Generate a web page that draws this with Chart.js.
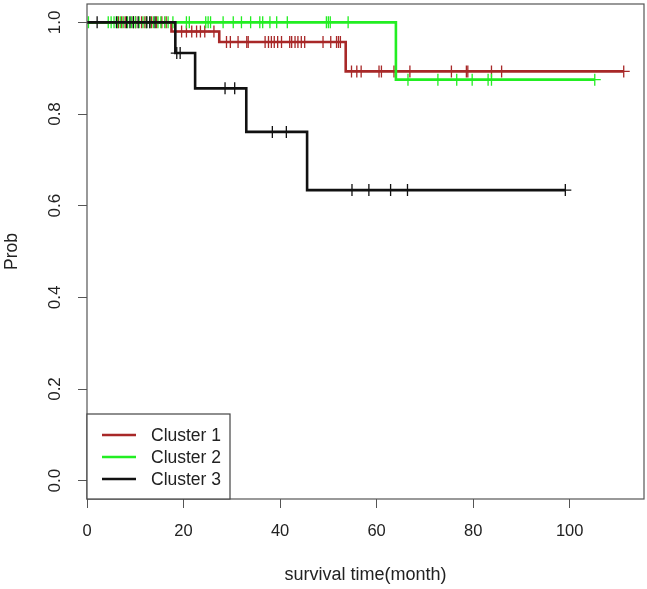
<!DOCTYPE html>
<html>
<head>
<meta charset="utf-8">
<script src="https://cdn.jsdelivr.net/npm/chart.js@4.4.1/dist/chart.umd.min.js"></script>
<style>
  html, body { margin: 0; padding: 0; background: #fff; }
</style>
</head>
<body>
<canvas id="km" width="647" height="589"></canvas>
<script>
  // Kaplan-Meier curves, values

  const clusterNames = ['Cluster 1', 'Cluster 2', 'Cluster 3'];
  const clusterColors = ['#A82828', '#22EE22', '#111111'];

  // event times (month) and survival after each event
  const c1EventTimes = [17.5, 27.4, 53.6];
  const c1Surv = [0.980, 0.957, 0.893];
  const c1Censor = [6.5, 7.2, 7.9, 9.6, 10.1, 11.3, 12.0, 13.4, 14.4, 15.5, 16.4,
    19.6, 20.6, 21.7, 22.7, 23.5, 24.4, 26.3,
    28.9, 29.7, 31.3, 33.1, 33.4, 36.9, 37.6, 38.2, 38.8, 39.5, 40.3, 42.0, 42.4,
    43.1, 43.7, 44.4, 45.1, 48.9, 50.5, 51.7, 52.1, 52.5,
    54.8, 55.9, 56.8, 60.5, 61.0, 63.6, 66.9, 75.5, 78.6, 78.9, 83.8, 85.9, 111.2];

  const c2EventTimes = [64.0];
  const c2Surv = [0.875];
  const c2Censor = [0.3, 4.4, 5.0, 5.6, 6.3, 6.9, 7.5, 8.4, 9.2, 10.0, 10.8, 11.6,
    12.3, 13.1, 13.8, 14.7, 15.3, 16.1, 16.8, 17.8, 20.6, 21.2, 24.6, 25.1, 25.6,
    28.2, 30.3, 32.0, 33.9, 35.8, 36.4, 37.9, 39.3, 41.5, 49.6, 50.0, 50.4, 54.1,
    66.5, 72.7, 76.6, 79.8, 83.1, 83.8, 105.2];

  const c3EventTimes = [18.3, 22.4, 33.0, 45.6];
  const c3Surv = [0.933, 0.856, 0.761, 0.634];
  const c3Censor = [2.1, 6.1, 8.2, 8.9, 9.6, 10.6, 12.4, 13.0, 14.1,
    18.6, 19.3, 28.6, 30.6, 38.4, 41.3, 54.9, 58.4, 62.9, 66.4, 99.1];

  const xTicks = [0, 20, 40, 60, 80, 100];
  const yTicks = [0, 0.2, 0.4, 0.6, 0.8, 1.0];
  const yTickLabels = ['0.0', '0.2', '0.4', '0.6', '0.8', '1.0'];

  const FONT = '"Liberation Sans", Arial, Helvetica, sans-serif';

  function survAt(times, surv, t) {
    let s = 1;
    for (let i = 0; i < times.length; i++) {
      if (times[i] <= t) s = surv[i];
    }
    return s;
  }

  function stepPoints(times, surv, censor) {
    const pts = [{ x: 0, y: 1 }];
    times.forEach((t, i) => pts.push({ x: t, y: surv[i] }));
    const end = Math.max(...censor, ...times);
    pts.push({ x: end, y: surv[surv.length - 1] });
    return pts;
  }

  function censorPoints(times, surv, censor) {
    return censor.map((t) => ({ x: t, y: survAt(times, surv, t) }));
  }

  const groups = [
    [c1EventTimes, c1Surv, c1Censor],
    [c2EventTimes, c2Surv, c2Censor],
    [c3EventTimes, c3Surv, c3Censor],
  ];

  // dataset 0 is painted last, so cluster 3 goes first
  const datasets = [];
  [2, 1, 0].forEach((g) => {
    const [t, s, c] = groups[g];
    datasets.push({
      type: 'scatter',
      label: clusterNames[g] + ' censored',
      data: censorPoints(t, s, c),
      pointStyle: 'cross',
      radius: 6,
      borderWidth: 1.3,
      borderColor: clusterColors[g],
      showLine: false,
    });
    datasets.push({
      type: 'line',
      label: clusterNames[g],
      data: stepPoints(t, s, c),
      stepped: true,
      borderColor: clusterColors[g],
      borderWidth: 2.6,
      pointRadius: 0,
      fill: false,
    });
  });

  const framePlugin = {
    id: 'frame',
    afterDraw(chart) {
      const ctx = chart.ctx;
      const ca = chart.chartArea;
      const yScale = chart.scales.y;

      ctx.save();
      // plot box
      ctx.strokeStyle = '#555';
      ctx.lineWidth = 1.2;
      ctx.strokeRect(ca.left, ca.top, ca.right - ca.left, ca.bottom - ca.top);

      // y tick labels, rotated like R
      ctx.fillStyle = '#222';
      ctx.font = '17px ' + FONT;
      ctx.textAlign = 'center';
      ctx.textBaseline = 'middle';
      yScale.ticks.forEach((tick, i) => {
        ctx.save();
        ctx.translate(ca.left - 32, yScale.getPixelForValue(tick.value));
        ctx.rotate(-Math.PI / 2);
        ctx.fillText(yTickLabels[i], 0, 0);
        ctx.restore();
      });

      // legend in the bottom left corner
      const lw = 143, lh = 85;
      const lx = ca.left, ly = ca.bottom - lh;
      ctx.fillStyle = '#fff';
      ctx.fillRect(lx, ly, lw, lh);
      ctx.strokeStyle = '#444';
      ctx.lineWidth = 1.2;
      ctx.strokeRect(lx, ly, lw, lh);
      ctx.textAlign = 'left';
      ctx.font = '17.5px ' + FONT;
      clusterNames.forEach((name, i) => {
        const ry = ly + 21 + i * 22;
        ctx.strokeStyle = clusterColors[i];
        ctx.lineWidth = 2.4;
        ctx.beginPath();
        ctx.moveTo(lx + 15, ry);
        ctx.lineTo(lx + 49, ry);
        ctx.stroke();
        ctx.fillStyle = '#222';
        ctx.fillText(name, lx + 64, ry + 1);
      });
      ctx.restore();
    },
  };

  new Chart(document.getElementById('km').getContext('2d'), {
    data: { datasets: datasets },
    options: {
      responsive: false,
      animation: false,
      layout: { autoPadding: false, padding: { top: 4, right: 3, left: 0, bottom: 0 } },
      plugins: {
        legend: { display: false },
        tooltip: { enabled: false },
      },
      scales: {
        x: {
          type: 'linear',
          min: 0,
          max: 115.4,
          afterBuildTicks: (scale) => {
            scale.ticks = xTicks.map((v) => ({ value: v }));
          },
          afterFit: (scale) => {
            scale.height = 90;
          },
          grid: { drawOnChartArea: false, drawTicks: true, tickLength: 9, color: '#555' },
          border: { display: false },
          ticks: {
            color: '#222',
            padding: 14,
            maxRotation: 0,
            font: { size: 16.5, family: FONT },
            callback: (v) => String(v),
          },
          title: {
            display: true,
            text: 'survival time(month)',
            color: '#222',
            font: { size: 18, family: FONT },
            padding: { top: 0, bottom: 3 },
          },
        },
        y: {
          type: 'linear',
          min: -0.04,
          max: 1.04,
          afterBuildTicks: (scale) => {
            scale.ticks = yTicks.map((v) => ({ value: v }));
          },
          afterFit: (scale) => {
            scale.width = 87;
          },
          grid: { drawOnChartArea: false, drawTicks: true, tickLength: 9, color: '#555' },
          border: { display: false },
          ticks: { display: false },
          title: {
            display: true,
            text: 'Prob',
            color: '#222',
            font: { size: 17.5, family: FONT },
            padding: { top: 2, bottom: 0 },
          },
        },
      },
    },
    plugins: [framePlugin],
  });
</script>
</body>
</html>
